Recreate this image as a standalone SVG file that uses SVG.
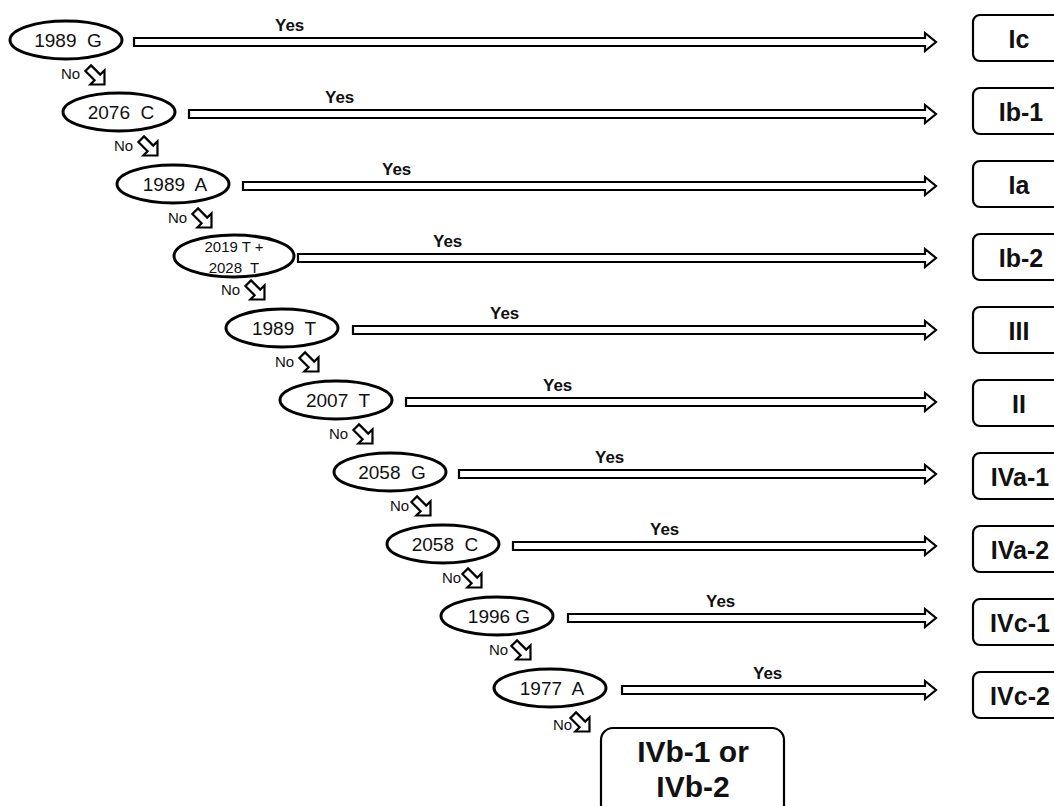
<svg xmlns="http://www.w3.org/2000/svg" width="1054" height="806" viewBox="0 0 1054 806" xml:space="preserve">
<style>
.ell{fill:#fff;stroke:#000;stroke-width:3}
.arr{fill:#fff;stroke:#000;stroke-width:2.2;stroke-linejoin:miter}
.box{fill:#fff;stroke:#000;stroke-width:2.2}
.t{font-family:"Liberation Sans",Arial,sans-serif;font-size:19px;text-anchor:middle;fill:#111;white-space:pre}
.ts{font-family:"Liberation Sans",Arial,sans-serif;font-size:15px;text-anchor:middle;fill:#111;white-space:pre}
.yes{font-family:"Liberation Sans",Arial,sans-serif;font-size:17px;font-weight:bold;fill:#111}
.no{font-family:"Liberation Sans",Arial,sans-serif;font-size:15px;fill:#111}
.lab{font-family:"Liberation Sans",Arial,sans-serif;font-size:25px;font-weight:bold;text-anchor:middle;fill:#111}
.big{font-family:"Liberation Sans",Arial,sans-serif;font-size:30px;font-weight:bold;text-anchor:middle;fill:#111}
</style>
<defs>
<path id="na" d="M-11,-4 H2 V-10 L12,0 L2,10 V4 H-11 Z" class="arr" transform="rotate(45)"/>
</defs>
<rect width="1054" height="806" fill="#fff"/>
<g id="connectors">
<path class="arr" d="M134,38 H925 V33 L936,42 L925,51 V46 H134 Z"/>
<path class="arr" d="M189,110 H925 V105 L936,114 L925,123 V118 H189 Z"/>
<path class="arr" d="M243,182 H925 V177 L936,186 L925,195 V190 H243 Z"/>
<path class="arr" d="M298,254 H925 V249 L936,258 L925,267 V262 H298 Z"/>
<path class="arr" d="M353,326 H925 V321 L936,330 L925,339 V334 H353 Z"/>
<path class="arr" d="M406,398 H925 V393 L936,402 L925,411 V406 H406 Z"/>
<path class="arr" d="M459,470 H925 V465 L936,474 L925,483 V478 H459 Z"/>
<path class="arr" d="M513,542 H925 V537 L936,546 L925,555 V550 H513 Z"/>
<path class="arr" d="M568,614 H925 V609 L936,618 L925,627 V622 H568 Z"/>
<path class="arr" d="M622,686 H925 V681 L936,690 L925,699 V694 H622 Z"/>
<text class="yes" x="275" y="31">Yes</text>
<text class="yes" x="325" y="103">Yes</text>
<text class="yes" x="382" y="175">Yes</text>
<text class="yes" x="433" y="247">Yes</text>
<text class="yes" x="490" y="319">Yes</text>
<text class="yes" x="543" y="391">Yes</text>
<text class="yes" x="595" y="463">Yes</text>
<text class="yes" x="650" y="535">Yes</text>
<text class="yes" x="706" y="607">Yes</text>
<text class="yes" x="753" y="679">Yes</text>
<use href="#na" x="96" y="76"/><text class="no" x="61" y="79">No</text>
<use href="#na" x="149" y="147"/><text class="no" x="114" y="151">No</text>
<use href="#na" x="203" y="219"/><text class="no" x="168" y="223">No</text>
<use href="#na" x="256" y="291"/><text class="no" x="221" y="295">No</text>
<use href="#na" x="310" y="363"/><text class="no" x="275" y="367">No</text>
<use href="#na" x="364" y="435"/><text class="no" x="329" y="439">No</text>
<use href="#na" x="422" y="507"/><text class="no" x="390" y="511">No</text>
<use href="#na" x="473" y="579"/><text class="no" x="442" y="583">No</text>
<use href="#na" x="522" y="651"/><text class="no" x="489" y="655">No</text>
<use href="#na" x="581" y="723"/><text class="no" x="553" y="730">No</text>
</g>
<g id="n1"><ellipse class="ell" cx="66" cy="40" rx="56" ry="19"/><text class="t" x="68" y="47">1989  G</text></g>
<g id="n2"><ellipse class="ell" cx="119" cy="112" rx="56" ry="19"/><text class="t" x="121" y="119">2076  C</text></g>
<g id="n3"><ellipse class="ell" cx="173" cy="184" rx="56" ry="19"/><text class="t" x="175" y="191">1989  A</text></g>
<g id="n4"><ellipse class="ell" cx="234" cy="256" rx="60" ry="21"/><text class="ts" x="234" y="252">2019 T +</text><text class="ts" x="234" y="273">2028  T</text></g>
<g id="n5"><ellipse class="ell" cx="282" cy="328" rx="56" ry="19"/><text class="t" x="284" y="335">1989  T</text></g>
<g id="n6"><ellipse class="ell" cx="336" cy="400" rx="56" ry="19"/><text class="t" x="338" y="407">2007  T</text></g>
<g id="n7"><ellipse class="ell" cx="390" cy="472" rx="56" ry="19"/><text class="t" x="392" y="479">2058  G</text></g>
<g id="n8"><ellipse class="ell" cx="443" cy="544" rx="56" ry="19"/><text class="t" x="445" y="551">2058  C</text></g>
<g id="n9"><ellipse class="ell" cx="497" cy="616" rx="56" ry="19"/><text class="t" x="499" y="623">1996 G</text></g>
<g id="n10"><ellipse class="ell" cx="550" cy="688" rx="56" ry="19"/><text class="t" x="552" y="695">1977  A</text></g>
<g id="b1"><rect class="box" x="973" y="15" width="100" height="46" rx="7"/><text class="lab" x="1019" y="48">Ic</text></g>
<g id="b2"><rect class="box" x="973" y="88" width="100" height="46" rx="7"/><text class="lab" x="1021" y="121">Ib-1</text></g>
<g id="b3"><rect class="box" x="973" y="161" width="100" height="46" rx="7"/><text class="lab" x="1019" y="194">Ia</text></g>
<g id="b4"><rect class="box" x="973" y="234" width="100" height="46" rx="7"/><text class="lab" x="1021" y="267">Ib-2</text></g>
<g id="b5"><rect class="box" x="973" y="307" width="100" height="46" rx="7"/><text class="lab" x="1019" y="340">III</text></g>
<g id="b6"><rect class="box" x="973" y="380" width="100" height="46" rx="7"/><text class="lab" x="1019" y="413">II</text></g>
<g id="b7"><rect class="box" x="973" y="453" width="100" height="46" rx="7"/><text class="lab" x="1020" y="486">IVa-1</text></g>
<g id="b8"><rect class="box" x="973" y="526" width="100" height="46" rx="7"/><text class="lab" x="1020" y="559">IVa-2</text></g>
<g id="b9"><rect class="box" x="973" y="599" width="100" height="46" rx="7"/><text class="lab" x="1020" y="632">IVc-1</text></g>
<g id="b10"><rect class="box" x="973" y="672" width="100" height="46" rx="7"/><text class="lab" x="1020" y="705">IVc-2</text></g>
<g id="b11"><rect class="box" x="601" y="728" width="183" height="90" rx="12"/><text class="big" x="693" y="762">IVb-1 or</text><text class="big" x="693" y="797">IVb-2</text></g>
</svg>
